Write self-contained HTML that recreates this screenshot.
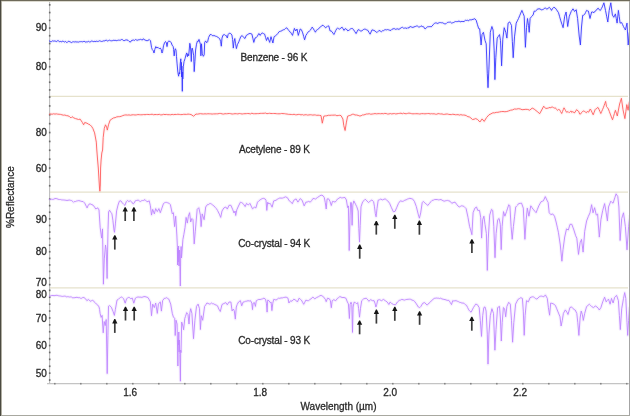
<!DOCTYPE html>
<html><head><meta charset="utf-8"><title>Reflectance spectra</title>
<style>html,body{margin:0;padding:0;background:#fff;width:630px;height:416px;overflow:hidden}svg{display:block;filter:blur(0.35px)}</style>
</head><body>
<svg width="630" height="416" viewBox="0 0 630 416">
<rect width="630" height="416" fill="#ffffff"/>
<line x1="50" y1="96.4" x2="628" y2="96.4" stroke="#e6e2cc" stroke-width="1.2"/>
<line x1="50" y1="192.2" x2="628" y2="192.2" stroke="#e6e2cc" stroke-width="1.2"/>
<line x1="50" y1="287.9" x2="628" y2="287.9" stroke="#e6e2cc" stroke-width="1.2"/>
<line x1="49.6" y1="0" x2="49.6" y2="384" stroke="#bdbdbd" stroke-width="1.1"/>
<line x1="47" y1="383.7" x2="629" y2="383.7" stroke="#c4c4c4" stroke-width="1.3"/>
<rect x="48.9" y="89.1" width="1.6" height="1.7" fill="#6a6a6a"/>
<rect x="48.9" y="81.4" width="1.6" height="1.7" fill="#6a6a6a"/>
<rect x="48.9" y="73.6" width="1.6" height="1.7" fill="#6a6a6a"/>
<rect x="48.9" y="65.9" width="1.6" height="1.7" fill="#6a6a6a"/>
<rect x="48.9" y="58.2" width="1.6" height="1.7" fill="#6a6a6a"/>
<rect x="48.9" y="50.4" width="1.6" height="1.7" fill="#6a6a6a"/>
<rect x="48.9" y="42.7" width="1.6" height="1.7" fill="#6a6a6a"/>
<rect x="48.9" y="34.9" width="1.6" height="1.7" fill="#6a6a6a"/>
<rect x="48.9" y="27.2" width="1.6" height="1.7" fill="#6a6a6a"/>
<rect x="48.9" y="19.5" width="1.6" height="1.7" fill="#6a6a6a"/>
<rect x="48.9" y="11.7" width="1.6" height="1.7" fill="#6a6a6a"/>
<rect x="48.9" y="4.0" width="1.6" height="1.7" fill="#6a6a6a"/>
<rect x="48.9" y="184.9" width="1.6" height="1.7" fill="#6a6a6a"/>
<rect x="48.9" y="176.1" width="1.6" height="1.7" fill="#6a6a6a"/>
<rect x="48.9" y="167.2" width="1.6" height="1.7" fill="#6a6a6a"/>
<rect x="48.9" y="158.3" width="1.6" height="1.7" fill="#6a6a6a"/>
<rect x="48.9" y="149.4" width="1.6" height="1.7" fill="#6a6a6a"/>
<rect x="48.9" y="140.6" width="1.6" height="1.7" fill="#6a6a6a"/>
<rect x="48.9" y="131.7" width="1.6" height="1.7" fill="#6a6a6a"/>
<rect x="48.9" y="122.8" width="1.6" height="1.7" fill="#6a6a6a"/>
<rect x="48.9" y="113.9" width="1.6" height="1.7" fill="#6a6a6a"/>
<rect x="48.9" y="105.1" width="1.6" height="1.7" fill="#6a6a6a"/>
<rect x="48.9" y="96.2" width="1.6" height="1.7" fill="#6a6a6a"/>
<rect x="48.9" y="283.8" width="1.6" height="1.7" fill="#6a6a6a"/>
<rect x="48.9" y="277.2" width="1.6" height="1.7" fill="#6a6a6a"/>
<rect x="48.9" y="270.6" width="1.6" height="1.7" fill="#6a6a6a"/>
<rect x="48.9" y="264.1" width="1.6" height="1.7" fill="#6a6a6a"/>
<rect x="48.9" y="257.5" width="1.6" height="1.7" fill="#6a6a6a"/>
<rect x="48.9" y="250.9" width="1.6" height="1.7" fill="#6a6a6a"/>
<rect x="48.9" y="244.3" width="1.6" height="1.7" fill="#6a6a6a"/>
<rect x="48.9" y="237.7" width="1.6" height="1.7" fill="#6a6a6a"/>
<rect x="48.9" y="231.2" width="1.6" height="1.7" fill="#6a6a6a"/>
<rect x="48.9" y="224.6" width="1.6" height="1.7" fill="#6a6a6a"/>
<rect x="48.9" y="218.0" width="1.6" height="1.7" fill="#6a6a6a"/>
<rect x="48.9" y="211.4" width="1.6" height="1.7" fill="#6a6a6a"/>
<rect x="48.9" y="204.8" width="1.6" height="1.7" fill="#6a6a6a"/>
<rect x="48.9" y="198.3" width="1.6" height="1.7" fill="#6a6a6a"/>
<rect x="48.9" y="379.2" width="1.6" height="1.7" fill="#6a6a6a"/>
<rect x="48.9" y="372.3" width="1.6" height="1.7" fill="#6a6a6a"/>
<rect x="48.9" y="365.4" width="1.6" height="1.7" fill="#6a6a6a"/>
<rect x="48.9" y="358.5" width="1.6" height="1.7" fill="#6a6a6a"/>
<rect x="48.9" y="351.6" width="1.6" height="1.7" fill="#6a6a6a"/>
<rect x="48.9" y="344.7" width="1.6" height="1.7" fill="#6a6a6a"/>
<rect x="48.9" y="337.8" width="1.6" height="1.7" fill="#6a6a6a"/>
<rect x="48.9" y="330.9" width="1.6" height="1.7" fill="#6a6a6a"/>
<rect x="48.9" y="324.0" width="1.6" height="1.7" fill="#6a6a6a"/>
<rect x="48.9" y="317.1" width="1.6" height="1.7" fill="#6a6a6a"/>
<rect x="48.9" y="310.2" width="1.6" height="1.7" fill="#6a6a6a"/>
<rect x="48.9" y="303.3" width="1.6" height="1.7" fill="#6a6a6a"/>
<rect x="48.9" y="296.4" width="1.6" height="1.7" fill="#6a6a6a"/>
<rect x="48.9" y="289.5" width="1.6" height="1.7" fill="#6a6a6a"/>
<rect x="54.0" y="382.9" width="1.6" height="1.6" fill="#858585"/>
<rect x="80.0" y="382.9" width="1.6" height="1.6" fill="#858585"/>
<rect x="106.0" y="382.9" width="1.6" height="1.6" fill="#858585"/>
<rect x="132.0" y="382.9" width="1.6" height="1.6" fill="#858585"/>
<rect x="158.0" y="382.9" width="1.6" height="1.6" fill="#858585"/>
<rect x="184.0" y="382.9" width="1.6" height="1.6" fill="#858585"/>
<rect x="210.0" y="382.9" width="1.6" height="1.6" fill="#858585"/>
<rect x="236.0" y="382.9" width="1.6" height="1.6" fill="#858585"/>
<rect x="262.0" y="382.9" width="1.6" height="1.6" fill="#858585"/>
<rect x="288.0" y="382.9" width="1.6" height="1.6" fill="#858585"/>
<rect x="314.0" y="382.9" width="1.6" height="1.6" fill="#858585"/>
<rect x="340.0" y="382.9" width="1.6" height="1.6" fill="#858585"/>
<rect x="366.0" y="382.9" width="1.6" height="1.6" fill="#858585"/>
<rect x="392.0" y="382.9" width="1.6" height="1.6" fill="#858585"/>
<rect x="418.0" y="382.9" width="1.6" height="1.6" fill="#858585"/>
<rect x="444.0" y="382.9" width="1.6" height="1.6" fill="#858585"/>
<rect x="470.0" y="382.9" width="1.6" height="1.6" fill="#858585"/>
<rect x="496.0" y="382.9" width="1.6" height="1.6" fill="#858585"/>
<rect x="522.0" y="382.9" width="1.6" height="1.6" fill="#858585"/>
<rect x="548.0" y="382.9" width="1.6" height="1.6" fill="#858585"/>
<rect x="574.0" y="382.9" width="1.6" height="1.6" fill="#858585"/>
<rect x="600.0" y="382.9" width="1.6" height="1.6" fill="#858585"/>
<rect x="626.0" y="382.9" width="1.6" height="1.6" fill="#858585"/>
<polyline points="49.00,41.40 49.86,40.87 50.71,41.74 51.57,41.57 52.43,40.85 53.29,41.11 54.14,40.99 55.00,41.00 55.88,41.27 56.75,41.53 57.62,40.70 58.50,40.69 59.38,41.81 60.25,41.36 61.12,41.87 62.00,41.60 62.89,41.00 63.78,41.62 64.67,42.02 65.56,41.43 66.44,42.40 67.33,42.39 68.22,41.30 69.11,41.34 70.00,42.00 70.86,42.08 71.71,42.63 72.57,41.93 73.43,41.75 74.29,42.04 75.14,41.56 76.00,42.20 76.90,41.80 77.80,42.04 78.70,42.07 79.60,41.69 80.50,41.65 81.40,41.59 82.30,41.87 83.20,41.61 84.10,41.22 85.00,41.80 85.91,42.18 86.82,41.76 87.73,41.82 88.64,41.17 89.55,42.17 90.45,41.94 91.36,40.93 92.27,41.15 93.18,41.60 94.09,41.53 95.00,41.20 95.91,41.73 96.82,41.03 97.73,41.52 98.64,41.28 99.55,40.76 100.45,41.10 101.36,41.44 102.27,41.36 103.18,40.88 104.09,40.95 105.00,40.80 105.91,40.16 106.82,40.39 107.73,41.08 108.64,40.54 109.55,40.19 110.45,40.65 111.36,40.81 112.27,40.74 113.18,40.31 114.09,40.36 115.00,40.40 115.90,40.38 116.80,40.70 117.70,40.33 118.60,40.13 119.50,40.22 120.40,40.20 121.34,39.56 122.29,39.55 123.23,40.38 124.17,40.71 125.11,40.18 126.06,39.89 127.00,40.00 128.00,40.24 129.00,41.34 130.00,42.00 131.00,41.63 132.00,40.00 132.86,40.32 133.71,39.99 134.57,40.38 135.43,39.54 136.29,39.88 137.14,40.42 138.00,39.80 138.86,39.84 139.71,39.63 140.57,39.33 141.43,39.63 142.29,40.11 143.14,38.81 144.00,39.40 144.97,40.04 145.95,40.37 146.93,40.73 147.90,40.50 149.30,39.60 150.50,40.80 151.50,47.30 152.20,49.40 153.40,50.90 154.00,53.00 154.80,49.40 155.80,46.60 156.80,48.00 158.00,47.30 159.20,48.70 160.20,48.00 161.20,49.40 162.00,53.00 162.60,51.60 163.50,45.80 164.50,42.90 165.50,41.50 166.40,42.90 167.00,46.60 167.80,41.90 168.80,41.10 170.30,41.50 171.30,42.90 172.10,45.10 173.20,46.60 173.60,49.40 174.20,55.90 174.70,50.90 175.30,48.70 176.00,50.20 176.50,56.70 177.10,63.90 177.90,72.50 178.60,76.20 179.20,72.50 179.70,74.00 180.20,63.90 180.80,58.80 181.10,70.00 181.40,62.40 181.60,77.00 181.80,66.00 182.30,91.30 182.60,72.00 182.80,79.00 183.30,66.80 184.00,61.70 185.00,58.70 186.00,54.80 186.70,52.90 187.40,56.70 187.90,53.80 188.70,55.80 189.30,49.00 189.80,43.30 190.30,45.20 190.80,51.00 191.30,61.50 191.70,50.00 192.20,48.10 192.70,50.00 193.70,55.80 194.20,71.60 194.90,61.50 195.60,50.00 196.50,44.20 197.50,40.90 198.10,41.50 199.00,39.40 200.40,44.20 200.90,55.80 201.50,43.80 202.30,53.80 203.30,56.30 204.20,54.80 204.70,42.30 205.70,40.90 206.60,42.80 207.60,41.80 208.60,37.50 210.00,34.60 211.40,34.60 212.90,36.10 213.80,35.40 215.30,36.10 216.70,36.50 218.20,37.50 219.60,38.50 220.60,41.30 221.30,46.20 222.00,38.00 223.00,35.10 224.40,34.60 225.35,35.41 226.30,35.60 227.30,38.00 228.10,34.60 229.20,33.20 230.70,33.50 231.90,35.10 232.60,39.40 233.30,48.10 234.00,41.80 234.80,38.50 235.50,43.30 236.40,48.60 237.40,44.70 238.80,41.80 239.80,39.15 240.80,36.50 242.20,35.60 243.70,37.50 245.00,38.50 246.20,35.50 247.10,34.92 248.00,34.38 248.90,33.70 250.00,33.50 250.95,33.70 251.90,34.10 252.85,38.25 253.80,42.40 255.10,37.90 256.05,37.78 257.00,36.70 257.95,35.10 258.90,33.50 260.20,35.40 261.15,33.76 262.10,32.90 263.35,33.51 264.60,34.10 265.55,37.30 266.50,40.50 267.80,37.30 268.75,39.85 269.70,42.40 271.00,36.70 271.95,39.85 272.90,43.00 274.10,36.70 274.97,36.12 275.83,35.59 276.70,34.80 277.95,33.35 279.20,31.60 280.45,31.25 281.70,31.00 282.57,29.95 283.43,29.78 284.30,29.70 285.55,28.33 286.80,27.80 287.75,29.16 288.70,30.30 289.65,31.72 290.60,32.20 291.55,33.80 292.50,35.40 293.45,31.90 294.40,28.40 295.70,31.00 297.00,29.00 298.30,35.40 299.25,32.20 300.20,29.00 301.40,29.70 302.70,32.90 303.65,36.35 304.60,39.80 305.90,35.40 307.15,33.50 308.40,31.60 309.35,31.18 310.30,30.30 311.25,28.70 312.20,27.10 313.50,29.00 314.45,30.60 315.40,32.20 316.35,30.32 317.30,29.70 318.37,29.17 319.43,27.64 320.50,27.10 321.75,25.64 323.00,25.20 323.87,26.23 324.73,26.73 325.60,27.80 326.90,26.80 327.85,25.84 328.80,26.00 330.10,31.00 331.05,30.91 332.00,31.70 332.95,33.14 333.90,34.50 334.85,32.45 335.80,30.40 336.75,28.85 337.70,27.90 338.65,28.78 339.60,29.10 340.85,28.09 342.10,27.20 343.05,28.80 344.00,30.40 345.30,28.50 346.17,29.30 347.03,29.55 347.90,31.00 348.85,30.23 349.80,29.65 350.75,28.72 351.70,28.50 352.65,28.64 353.60,29.80 354.85,31.70 356.10,33.60 357.05,31.70 358.00,29.80 358.95,29.72 359.90,30.54 360.85,31.11 361.80,31.00 362.75,29.90 363.70,29.42 364.65,29.12 365.60,29.10 366.47,30.02 367.33,29.92 368.20,31.00 369.15,32.60 370.10,34.20 371.05,32.00 372.00,29.80 372.95,30.16 373.90,30.40 375.15,30.99 376.40,32.30 377.27,32.28 378.13,31.42 379.00,30.40 380.25,31.07 381.50,31.70 382.57,30.71 383.63,30.63 384.70,29.80 385.65,29.66 386.60,29.90 387.55,29.57 388.50,29.80 389.75,30.27 391.00,30.40 392.07,29.19 393.13,28.87 394.20,28.50 395.15,29.26 396.10,29.29 397.05,28.70 398.00,29.10 399.00,29.32 400.00,28.60 401.25,27.70 402.50,27.30 403.40,28.13 404.30,28.14 405.20,27.97 406.10,28.02 407.00,28.60 407.95,27.49 408.90,28.14 409.85,26.57 410.80,26.70 411.87,27.18 412.93,27.43 414.00,26.90 415.25,26.54 416.50,26.00 417.45,26.02 418.40,26.90 419.27,27.01 420.13,26.78 421.00,25.80 422.25,26.52 423.50,26.70 425.10,29.00 426.20,27.96 427.30,26.90 428.25,26.74 429.20,26.70 430.15,26.52 431.10,26.90 432.17,25.99 433.23,24.55 434.30,23.50 435.25,23.03 436.20,22.84 437.15,23.49 438.10,23.20 439.35,22.63 440.60,22.60 441.47,22.77 442.33,22.71 443.20,23.10 444.23,23.72 445.27,23.89 446.30,23.50 447.37,22.44 448.43,22.24 449.50,22.20 450.45,22.08 451.40,23.03 452.35,22.87 453.30,22.60 454.37,22.06 455.43,21.56 456.50,21.60 457.75,21.53 459.00,21.00 459.98,21.59 460.95,21.86 461.92,21.25 462.90,21.60 464.15,21.45 465.40,20.30 466.35,20.49 467.30,20.18 468.25,20.78 469.20,20.10 470.15,19.66 471.10,20.19 472.05,19.26 473.00,19.70 473.95,18.82 474.90,18.80 476.20,20.30 477.50,24.80 478.70,28.60 479.70,28.80 481.10,45.00 482.00,34.60 483.40,32.30 485.00,40.40 486.20,43.80 487.30,73.80 488.00,87.70 488.90,69.20 490.30,32.30 491.90,26.50 493.10,30.00 494.20,50.80 494.90,79.60 495.80,57.70 497.20,38.10 498.35,36.35 499.50,34.60 500.50,40.40 501.60,65.80 502.80,39.20 504.20,27.70 505.80,32.30 506.90,38.10 508.10,23.10 509.70,21.90 510.60,23.65 511.50,25.40 512.35,41.55 513.20,57.70 514.50,36.90 515.35,30.00 516.20,23.10 517.35,20.80 518.50,18.50 519.63,15.80 520.77,13.10 521.90,10.40 523.05,13.30 524.20,16.20 525.40,47.30 526.50,27.70 527.50,18.50 528.50,25.40 529.20,32.30 530.10,18.50 531.50,16.60 533.10,15.00 534.20,11.10 535.35,11.23 536.50,10.40 537.70,8.80 538.85,8.94 540.00,8.80 541.15,9.84 542.30,9.70 543.45,9.40 544.60,8.10 545.75,8.18 546.90,9.20 548.05,8.37 549.20,7.40 550.35,8.39 551.50,10.40 552.65,8.30 553.80,7.40 555.00,7.75 556.20,9.20 557.35,10.95 558.50,12.70 559.65,16.75 560.80,20.80 561.95,24.25 563.10,27.70 564.70,16.20 566.10,12.00 567.70,26.50 569.30,16.20 570.25,13.85 571.20,11.50 572.10,10.15 573.00,8.80 574.60,11.50 576.20,9.70 577.60,18.50 579.20,36.00 580.40,45.00 581.50,27.00 582.70,15.30 583.70,15.17 584.70,14.30 585.65,12.35 586.60,10.40 587.50,10.84 588.40,11.10 590.00,18.50 591.60,12.00 592.80,11.99 594.00,12.70 595.15,11.01 596.30,10.40 597.20,8.95 598.10,8.10 599.25,9.76 600.40,10.40 601.35,8.65 602.30,6.90 603.90,2.80 605.50,10.40 606.65,16.20 607.80,22.00 609.20,10.40 610.80,2.80 612.40,15.00 613.80,17.30 615.40,13.90 616.25,18.50 617.10,23.10 618.40,10.40 619.25,16.75 620.10,23.10 621.70,22.60 622.60,24.60 623.50,26.60 624.45,28.30 625.40,30.00 627.00,23.10 628.20,45.00 629.30,32.30" fill="none" stroke="#3838ff" stroke-opacity="0.07" stroke-width="3.2" stroke-linejoin="round"/>
<polyline points="49.00,114.40 50.53,113.94 52.07,114.24 53.60,113.80 54.98,114.10 56.36,113.87 57.74,114.16 59.12,114.24 60.50,114.40 61.95,114.81 63.40,115.20 64.85,115.02 66.30,115.60 68.00,115.82 69.70,116.70 70.90,117.90 72.10,116.70 73.80,117.89 75.50,118.60 77.00,119.00 78.50,119.50 80.10,119.10 82.40,122.50 83.60,124.80 84.70,122.50 87.00,123.20 88.50,124.18 90.00,124.80 91.40,126.20 92.80,128.30 94.60,132.90 96.30,142.10 96.80,150.00 97.60,160.00 98.30,168.00 98.90,178.00 99.50,188.00 99.90,191.20 100.30,185.00 100.60,168.00 101.10,160.00 101.80,153.00 102.60,150.00 103.20,137.50 104.30,128.30 105.50,124.80 106.60,127.10 107.30,130.10 108.50,124.80 110.10,120.20 111.85,119.01 113.60,117.90 115.13,117.66 116.67,116.91 118.20,116.70 119.73,116.65 121.27,116.25 122.80,115.60 124.35,115.10 125.90,114.92 127.45,115.10 129.00,114.90 130.50,115.23 132.00,114.87 133.50,114.78 135.00,115.00 136.43,114.90 137.86,114.58 139.29,114.68 140.71,114.79 142.14,114.78 143.57,114.56 145.00,114.70 146.43,114.48 147.86,114.45 149.29,114.59 150.71,114.44 152.14,114.22 153.57,114.76 155.00,114.50 156.43,114.55 157.86,114.63 159.29,114.32 160.71,114.90 162.14,114.82 163.57,114.32 165.00,114.60 166.43,114.45 167.86,114.70 169.29,114.66 170.71,114.79 172.14,114.40 173.57,114.66 175.00,114.40 176.43,114.50 177.86,114.23 179.29,114.42 180.71,114.61 182.14,114.57 183.57,114.32 185.00,114.30 186.50,114.41 188.00,114.07 189.50,114.27 191.00,114.50 193.60,116.20 196.00,114.00 197.50,114.17 199.00,113.87 200.50,113.67 202.00,113.90 203.50,113.98 205.00,113.80 206.43,113.94 207.86,113.74 209.29,113.80 210.71,113.86 212.14,114.07 213.57,113.90 215.00,113.90 216.43,113.80 217.86,113.84 219.29,113.48 220.71,113.47 222.14,113.90 223.57,114.07 225.00,113.70 226.43,113.77 227.86,113.63 229.29,113.47 230.71,113.70 232.14,114.04 233.57,113.89 235.00,113.70 236.43,113.73 237.86,113.95 239.29,113.51 240.71,113.71 242.14,114.02 243.57,113.75 245.00,113.70 246.38,113.64 247.75,113.48 249.13,113.64 250.51,113.90 251.88,113.20 253.26,113.71 254.64,113.71 256.02,113.72 257.39,113.59 258.77,113.61 260.15,113.37 261.52,113.37 262.90,113.30 264.24,113.28 265.58,113.06 266.92,113.66 268.26,113.49 269.61,113.27 270.95,113.52 272.29,113.54 273.63,113.48 274.97,113.51 276.31,113.68 277.65,113.77 278.99,113.80 280.34,113.73 281.68,113.46 283.02,113.64 284.36,113.64 285.70,113.90 287.09,114.05 288.48,114.33 289.87,114.38 291.26,114.47 292.65,114.58 294.05,114.27 295.44,114.78 296.83,114.75 298.22,114.43 299.61,114.47 301.00,114.90 302.32,114.58 303.63,115.13 304.95,114.79 306.26,114.72 307.58,115.10 308.89,114.93 310.21,114.76 311.52,114.85 312.84,115.13 314.15,114.90 315.47,114.99 316.78,115.33 318.10,115.20 319.55,115.37 321.00,115.60 322.30,123.20 323.80,116.20 325.32,115.88 326.84,115.78 328.36,115.27 329.88,115.32 331.40,115.20 332.77,115.20 334.14,115.10 335.51,115.10 336.89,115.71 338.26,115.49 339.63,115.34 341.00,115.60 342.90,119.00 343.80,125.70 345.10,130.50 346.30,122.90 347.60,116.20 349.20,115.64 350.80,115.16 352.40,114.30 353.70,114.31 355.00,115.00 356.60,115.00 358.20,115.42 359.80,116.00 361.12,115.75 362.44,114.96 363.76,114.94 365.08,114.52 366.40,114.00 367.84,113.99 369.27,113.73 370.71,114.22 372.15,114.06 373.59,113.82 375.02,113.58 376.46,113.84 377.90,113.70 379.28,113.63 380.66,113.75 382.05,113.57 383.43,113.79 384.81,113.39 386.19,113.56 387.57,114.03 388.95,113.96 390.34,113.56 391.72,113.95 393.10,113.70 394.42,113.54 395.73,113.95 397.05,113.78 398.36,113.52 399.68,113.37 400.99,113.17 402.31,113.75 403.62,113.13 404.94,113.65 406.25,113.72 407.57,113.41 408.88,113.10 410.20,113.30 411.57,113.66 412.94,113.83 414.31,113.74 415.69,113.71 417.06,113.71 418.43,113.79 419.80,114.00 421.70,113.64 423.60,113.70 424.92,113.84 426.23,113.70 427.55,113.56 428.86,113.52 430.18,113.93 431.49,113.70 432.81,113.86 434.12,113.76 435.44,114.17 436.75,114.21 438.07,113.62 439.38,113.77 440.70,114.00 442.03,113.92 443.36,114.42 444.69,114.32 446.02,114.05 447.35,114.00 448.68,114.36 450.01,114.52 451.34,114.62 452.67,114.25 454.00,114.40 455.37,114.75 456.74,114.70 458.11,114.65 459.49,115.08 460.86,114.64 462.23,115.07 463.60,115.00 465.03,115.18 466.45,115.72 467.88,116.71 469.30,116.90 470.90,118.00 472.50,119.50 474.10,119.23 475.70,118.60 477.60,119.50 479.90,122.00 482.10,118.90 484.20,121.40 486.50,117.60 489.00,114.80 490.95,113.87 492.90,112.80 494.57,112.87 496.23,112.37 497.90,112.30 499.60,111.92 501.30,111.62 503.00,111.50 504.90,111.76 506.80,111.50 508.70,110.92 510.60,110.20 512.50,109.92 514.40,109.00 516.35,109.12 518.30,108.70 520.20,108.94 522.10,109.70 524.00,109.54 525.90,109.30 527.80,109.47 529.70,110.20 532.20,108.10 534.10,109.03 536.00,110.60 537.80,111.90 539.60,113.80 541.70,110.00 543.70,106.20 545.60,108.40 547.07,108.32 548.53,107.94 550.00,107.40 550.83,107.96 551.67,106.88 552.50,107.10 553.37,107.56 554.23,108.13 555.10,107.80 555.93,108.39 556.77,109.61 557.60,110.30 558.55,109.45 559.50,109.70 560.60,111.60 561.70,113.50 562.47,111.60 563.23,109.70 564.00,107.80 564.83,109.27 565.67,110.73 566.50,112.20 567.26,112.00 568.02,111.51 568.78,112.41 569.54,112.38 570.30,111.60 571.06,110.88 571.82,112.46 572.58,111.56 573.34,111.87 574.10,112.90 575.05,112.37 576.00,110.30 576.95,109.73 577.90,111.00 578.77,111.51 579.63,114.04 580.50,114.10 581.45,112.69 582.40,111.60 583.20,110.98 584.00,111.23 584.80,111.53 585.60,112.20 586.43,112.69 587.27,111.41 588.10,112.20 588.87,111.95 589.63,109.82 590.40,109.00 591.33,110.93 592.27,112.87 593.20,114.80 594.15,112.25 595.10,109.70 595.90,108.73 596.70,108.70 597.50,107.48 598.30,107.80 599.13,109.70 599.97,111.60 600.80,113.50 601.63,111.60 602.47,109.70 603.30,107.80 604.07,105.67 604.83,103.53 605.60,101.40 606.50,106.50 607.45,107.65 608.40,109.00 609.35,111.55 610.30,114.10 611.40,116.95 612.50,119.80 613.47,116.63 614.43,113.47 615.40,110.30 616.35,113.15 617.30,116.00 618.07,112.00 618.83,108.00 619.60,104.00 620.50,101.15 621.40,98.30 622.20,104.00 623.00,109.70 623.95,114.15 624.90,118.60 625.85,111.60 626.80,104.60 628.10,110.30 629.40,101.40" fill="none" stroke="#ff6464" stroke-opacity="0.08" stroke-width="3.2" stroke-linejoin="round"/>
<polyline points="49.00,199.30 50.60,199.50 51.60,199.19 52.60,199.40 53.80,199.19 55.00,198.50 56.90,198.70 58.10,199.28 59.30,199.50 60.50,199.53 61.70,199.90 62.77,199.96 63.83,200.00 64.90,200.10 65.93,200.27 66.97,200.44 68.00,200.30 69.20,200.02 70.40,200.30 71.60,200.57 72.80,201.50 73.60,202.30 74.40,201.50 75.40,201.54 76.40,201.10 77.60,200.80 78.80,200.60 80.70,201.10 81.90,201.48 83.10,201.50 84.70,203.10 86.30,206.30 87.10,207.90 87.90,205.90 89.10,204.10 90.10,203.85 91.10,204.30 93.00,205.10 94.60,207.10 95.80,209.10 97.00,207.90 98.20,208.30 99.00,210.00 100.20,227.70 101.60,238.10 102.50,228.90 103.40,284.20 104.30,258.90 105.50,245.00 106.20,249.60 107.10,278.50 107.60,250.00 108.00,229.70 108.60,212.00 109.50,210.20 110.80,212.30 111.90,213.80 112.90,220.30 114.00,230.40 114.50,232.30 115.40,223.90 116.60,210.90 118.00,205.10 119.40,201.10 120.90,200.80 122.30,202.90 123.80,204.40 124.90,205.40 126.40,201.50 127.40,200.50 128.80,201.50 130.30,200.80 131.70,201.90 133.20,204.00 133.90,203.40 135.30,200.80 136.75,200.41 138.20,200.10 139.30,200.96 140.40,201.50 141.45,200.81 142.50,200.50 143.75,200.36 145.00,199.60 146.90,201.70 148.05,201.53 149.20,200.80 150.40,205.80 151.50,215.10 152.70,209.30 154.30,213.90 155.70,208.60 157.30,211.60 158.90,208.60 160.30,212.70 161.90,208.10 163.50,203.50 164.50,202.80 165.50,202.43 166.50,202.40 167.65,202.78 168.80,203.10 170.40,204.70 172.30,213.90 173.40,212.70 174.60,226.60 175.70,216.20 176.90,236.00 177.40,247.00 177.60,265.00 177.90,248.00 178.30,262.00 178.60,246.00 179.00,266.00 179.40,250.00 179.80,262.00 180.30,286.00 180.70,255.00 181.10,246.50 181.50,258.00 182.00,251.80 182.90,239.50 183.80,234.70 185.00,227.70 186.10,217.40 187.30,223.10 188.40,216.20 189.60,212.70 190.70,222.00 191.90,218.50 193.00,219.70 194.20,243.90 195.30,231.20 197.20,209.30 198.80,207.70 200.40,215.10 201.10,226.60 202.20,213.90 204.10,219.70 205.70,207.00 207.30,204.70 208.30,204.61 209.30,203.82 210.30,203.50 211.47,204.07 212.63,204.98 213.80,205.80 215.00,207.20 216.25,208.47 217.50,210.40 219.40,214.20 220.70,217.40 222.00,211.00 223.90,207.90 225.80,207.00 227.30,209.10 229.00,205.30 230.90,205.30 232.80,209.80 234.00,213.00 235.10,211.00 235.70,215.50 236.80,209.80 238.50,206.00 240.40,202.20 241.65,202.61 242.90,203.40 244.05,204.96 245.20,206.60 246.50,203.40 248.30,205.00 249.90,203.40 251.20,206.10 252.50,208.80 254.40,207.20 255.90,207.90 257.50,202.20 258.80,200.86 260.10,199.90 261.17,199.18 262.23,198.64 263.30,198.30 265.20,199.00 266.00,200.30 266.80,210.40 267.70,202.20 269.00,204.10 269.90,203.20 270.90,204.70 272.10,207.20 273.70,200.90 274.85,200.57 276.00,200.30 277.25,199.30 278.50,198.60 279.75,198.02 281.00,198.10 282.30,198.14 283.60,197.70 285.50,196.80 287.40,197.70 289.30,200.90 290.50,201.60 292.30,203.70 293.80,200.20 294.95,199.59 296.10,198.90 297.90,202.10 299.05,200.35 300.20,198.60 302.10,200.20 303.15,203.05 304.20,205.90 305.90,202.10 307.15,202.09 308.40,201.40 310.30,202.10 311.60,200.60 312.90,198.60 314.15,198.58 315.40,199.10 317.30,197.60 319.20,196.30 321.10,195.10 323.00,195.70 324.30,197.60 325.30,202.70 326.20,209.00 327.10,198.90 328.70,198.90 330.00,201.40 331.30,205.50 332.50,201.40 333.80,201.63 335.10,202.10 336.35,200.66 337.60,198.90 338.90,198.25 340.20,197.30 341.45,197.86 342.70,197.80 343.85,197.60 345.00,197.50 346.40,200.00 347.60,207.60 348.40,205.90 349.20,250.50 350.10,215.20 350.60,202.60 351.40,202.60 352.10,225.30 352.80,205.10 353.80,200.90 355.50,204.20 356.80,206.80 358.20,211.00 358.80,228.60 359.50,242.10 360.20,225.30 361.00,206.80 362.70,201.70 363.95,200.68 365.20,199.20 366.90,200.90 368.60,202.60 370.30,200.90 371.90,200.00 373.60,201.70 374.50,206.80 375.30,213.50 376.10,216.80 377.00,208.40 378.20,200.20 379.45,199.77 380.70,199.10 382.60,199.90 383.90,199.26 385.20,198.90 386.45,199.91 387.70,200.80 389.60,203.30 391.50,207.80 393.40,211.80 395.10,211.30 396.60,207.80 398.50,203.30 400.40,200.80 402.30,201.40 403.55,201.07 404.80,200.20 406.10,199.89 407.40,199.10 408.65,198.70 409.90,198.30 411.20,198.66 412.50,198.90 414.40,201.40 416.30,206.50 418.20,214.10 419.40,218.20 420.70,212.90 422.20,202.70 423.30,201.40 425.20,203.30 426.45,204.07 427.70,205.50 429.60,203.30 430.85,201.67 432.10,200.40 433.40,200.16 434.70,199.50 435.97,199.57 437.23,199.54 438.50,199.90 439.75,199.73 441.00,199.50 442.07,200.21 443.13,200.76 444.20,201.20 445.27,200.85 446.33,200.62 447.40,200.40 448.70,200.81 450.00,201.20 451.80,203.30 453.10,202.70 455.00,202.10 456.90,204.70 458.05,206.04 459.20,207.00 460.35,206.41 461.50,205.80 462.65,205.98 463.80,206.30 464.95,207.44 466.10,208.60 468.00,217.40 469.60,226.60 470.70,230.00 471.90,234.70 473.10,212.70 474.90,208.10 476.50,207.00 477.70,210.40 479.50,210.40 480.70,217.40 481.60,238.10 482.70,219.70 483.90,216.20 485.00,224.30 486.40,233.50 487.30,270.40 488.30,238.10 489.70,215.10 491.50,209.30 492.70,210.40 493.80,226.60 495.00,257.70 496.10,233.50 497.70,219.70 499.10,218.50 500.30,224.30 501.20,249.60 502.10,226.60 503.50,211.60 504.90,216.20 506.50,211.60 507.65,208.15 508.80,204.70 509.90,205.80 511.10,226.60 512.20,239.30 513.40,226.60 514.55,216.80 515.70,207.00 516.70,205.98 517.70,205.00 518.70,203.50 520.10,203.37 521.50,203.10 523.30,208.10 524.90,239.30 526.20,219.70 527.30,208.10 528.90,216.20 530.80,205.80 531.95,207.55 533.10,209.30 534.10,210.20 535.10,211.57 536.10,212.70 537.45,209.25 538.80,205.80 539.95,203.75 541.10,201.70 542.25,201.28 543.40,200.80 545.30,196.60 546.90,200.10 548.10,202.40 549.20,212.70 550.80,214.60 552.70,213.90 554.50,216.20 556.10,222.00 557.25,227.15 558.40,232.30 560.30,245.00 561.90,261.20 563.00,249.60 564.70,237.00 566.50,228.90 568.30,230.00 570.00,224.30 571.80,224.30 572.85,227.15 573.90,230.00 575.70,235.80 576.80,238.20 578.50,254.40 580.10,242.80 581.50,239.40 583.10,252.10 584.70,231.30 586.60,220.90 588.40,216.30 590.00,212.80 591.60,204.70 593.00,212.80 594.60,207.70 596.30,215.10 597.60,214.00 599.30,237.10 600.90,219.70 602.70,210.50 604.60,203.60 606.20,212.80 607.40,220.90 608.50,207.00 609.65,204.10 610.80,201.20 611.95,202.47 613.10,203.10 614.80,197.80 616.10,193.80 617.80,196.60 618.90,207.00 620.10,240.50 621.70,218.60 623.50,212.80 625.40,226.70 627.00,249.80 628.60,226.70 629.80,215.10" fill="none" stroke="#b070ff" stroke-opacity="0.09" stroke-width="3.2" stroke-linejoin="round"/>
<polyline points="49.00,296.00 50.60,295.90 51.80,295.44 53.00,295.50 54.03,295.68 55.07,295.55 56.10,295.30 57.17,295.33 58.23,295.70 59.30,295.90 60.30,295.96 61.30,296.21 62.30,296.40 63.30,296.30 64.30,296.12 65.30,296.17 66.30,296.84 67.30,296.70 68.33,296.72 69.37,297.02 70.40,296.90 71.60,297.05 72.80,297.90 73.87,297.70 74.93,297.72 76.00,297.40 77.07,297.24 78.13,297.78 79.20,297.50 80.35,298.18 81.50,298.30 82.70,297.57 83.90,297.50 85.50,298.70 86.90,300.70 88.30,299.50 89.30,300.07 90.30,301.30 91.30,300.83 92.30,300.30 93.40,300.70 94.60,302.30 96.20,303.90 97.80,305.10 99.00,306.90 99.60,309.50 100.10,313.40 101.10,317.40 102.10,315.40 103.20,332.80 104.20,321.50 105.20,325.60 106.20,319.50 107.20,373.60 107.90,335.80 108.50,306.20 109.70,305.60 111.30,307.20 113.00,311.30 114.40,315.40 115.40,309.30 117.00,300.10 118.25,299.41 119.50,298.10 120.50,297.47 121.50,297.00 122.55,297.65 123.60,298.70 125.20,303.20 126.60,298.70 127.65,298.00 128.70,297.40 129.70,297.72 130.70,298.70 132.30,298.10 133.80,303.20 135.40,298.10 136.65,297.36 137.90,297.00 138.90,297.06 139.90,297.20 140.90,297.11 141.90,297.40 142.93,296.94 143.97,296.67 145.00,296.60 146.03,296.94 147.07,297.19 148.10,297.70 149.25,299.75 150.40,301.80 151.50,315.70 152.70,304.10 154.30,307.60 155.70,303.00 157.30,313.40 158.40,304.10 160.30,301.80 161.40,311.10 162.60,300.70 164.20,298.40 165.35,298.29 166.50,297.70 167.65,298.44 168.80,299.10 170.70,304.10 172.30,313.40 173.40,317.00 174.70,318.30 175.20,335.50 176.00,320.20 177.10,324.00 177.50,345.00 177.90,366.00 178.20,340.00 178.50,345.00 178.80,332.00 179.10,352.00 179.40,340.00 179.80,354.50 180.40,381.20 180.70,350.00 181.00,352.60 181.40,335.00 181.70,322.10 182.90,326.00 183.60,329.80 184.80,318.30 185.50,316.40 186.70,312.60 188.00,314.50 189.00,324.00 189.90,312.60 190.70,308.70 191.90,313.40 193.50,338.70 194.90,320.30 196.50,306.40 198.10,304.10 199.50,308.70 200.40,329.50 201.30,315.70 202.70,320.30 204.60,306.40 205.75,304.80 206.90,303.00 208.05,303.33 209.20,304.10 210.35,303.89 211.50,303.00 212.63,303.79 213.77,303.80 214.90,304.60 216.20,305.08 217.50,305.80 218.80,309.00 220.30,311.50 222.00,304.50 223.90,303.50 225.80,302.60 227.30,304.80 229.00,302.00 230.90,302.00 232.10,310.90 233.40,309.00 234.30,310.90 235.30,319.10 236.30,307.00 237.20,304.50 238.50,302.00 240.40,300.70 241.70,305.80 243.20,302.00 244.35,301.81 245.50,301.30 246.75,301.15 248.00,300.70 249.30,301.01 250.60,300.70 251.80,303.20 252.50,309.60 253.10,303.20 254.40,302.60 255.40,306.40 256.30,300.70 257.55,300.00 258.80,299.40 260.05,299.53 261.30,299.20 262.60,298.82 263.90,298.20 265.50,299.20 266.40,303.20 267.10,312.10 267.70,300.10 269.00,300.70 270.20,302.60 271.10,302.00 271.90,310.60 272.80,303.20 273.70,299.40 274.85,299.61 276.00,300.10 277.25,299.21 278.50,298.20 279.75,298.32 281.00,297.90 282.30,297.94 283.60,297.50 284.85,297.30 286.10,297.10 288.00,298.20 288.90,303.00 290.60,300.70 291.90,301.30 293.80,299.20 295.70,300.10 297.40,302.00 299.10,298.20 300.25,299.21 301.40,300.10 302.55,302.20 303.70,304.30 304.80,302.20 305.90,300.10 307.15,300.61 308.40,300.70 309.70,299.69 311.00,298.80 312.90,297.10 314.80,298.80 316.70,297.50 318.60,296.60 319.85,295.77 321.10,295.40 322.20,296.03 323.30,296.60 324.30,298.04 325.30,299.20 326.20,301.70 327.50,298.20 329.40,298.80 330.40,300.70 331.30,307.70 332.20,300.70 333.80,299.70 335.70,300.70 337.60,298.20 338.70,297.52 339.80,296.60 340.95,296.96 342.10,297.50 344.00,297.50 345.90,298.20 347.40,302.00 348.40,303.90 349.40,318.50 350.10,304.50 351.00,302.20 351.80,304.50 352.50,332.40 353.10,307.00 354.10,302.20 355.40,302.60 356.70,303.90 357.70,302.60 358.60,308.30 359.50,317.20 360.50,308.30 361.70,300.70 362.70,299.71 363.70,298.80 364.95,298.51 366.20,298.20 368.10,300.10 368.80,301.30 370.70,299.70 372.60,300.70 374.10,300.70 375.20,303.90 375.90,307.00 376.70,304.50 377.70,300.10 379.60,299.70 381.50,300.70 383.40,299.40 385.30,300.70 387.20,302.00 388.90,304.50 390.10,302.00 391.70,303.50 393.60,304.50 395.50,304.80 397.40,302.00 399.30,300.40 400.55,300.09 401.80,299.40 403.10,299.76 404.40,300.10 405.65,299.68 406.90,299.40 408.15,299.29 409.40,299.20 410.70,299.32 412.00,300.10 413.25,300.38 414.50,301.30 416.40,303.90 418.30,307.00 419.60,307.70 420.90,306.40 422.80,303.20 424.70,302.60 425.95,303.99 427.20,305.10 429.10,303.00 430.40,302.04 431.70,300.40 432.95,299.47 434.20,298.40 435.27,298.26 436.33,298.04 437.40,298.20 438.47,298.20 439.53,298.54 440.60,298.20 441.85,298.89 443.10,299.20 445.00,299.60 446.05,299.90 447.10,300.40 448.15,300.24 449.20,300.70 450.35,302.65 451.50,304.60 452.70,300.70 453.83,301.02 454.97,300.75 456.10,300.70 457.27,301.20 458.43,301.61 459.60,302.30 460.77,302.57 461.93,303.09 463.10,303.00 464.23,303.42 465.37,304.73 466.50,305.30 467.65,307.60 468.80,309.90 469.95,311.32 471.10,312.20 472.25,309.90 473.40,307.60 474.55,305.85 475.70,304.10 477.30,304.60 479.20,307.60 480.30,320.30 481.50,336.40 482.70,315.70 483.80,307.60 485.00,306.90 486.10,311.10 487.30,334.10 488.00,364.10 488.90,334.10 490.30,315.70 491.90,308.70 493.50,313.40 494.90,350.20 496.00,329.50 497.60,307.60 499.50,306.40 500.40,318.00 501.30,341.00 502.20,322.60 503.40,307.60 504.60,308.70 505.70,316.80 506.90,306.40 508.70,302.30 510.30,304.10 511.50,320.30 512.60,342.20 513.80,322.60 515.60,304.10 516.75,301.80 517.90,299.50 519.35,298.64 520.80,297.70 522.40,298.40 523.30,311.10 524.20,335.30 525.10,315.70 526.50,300.70 528.40,301.80 530.00,297.70 531.15,297.20 532.30,296.80 533.45,296.94 534.60,297.70 535.75,298.66 536.90,299.10 538.05,298.00 539.20,296.80 540.35,296.24 541.50,296.10 542.65,296.45 543.80,296.80 545.40,294.90 547.30,298.40 548.40,307.60 549.60,315.20 550.70,303.00 551.85,303.34 553.00,303.70 554.15,304.40 555.30,305.30 556.50,308.20 557.70,311.10 558.85,313.95 560.00,316.80 561.10,326.00 562.30,320.30 563.40,313.40 565.30,309.90 566.90,312.20 568.00,314.50 569.90,307.60 571.50,306.90 573.10,308.70 574.15,309.44 575.20,310.00 576.80,313.40 577.80,322.70 578.90,335.40 580.10,318.00 581.20,311.10 582.40,314.60 583.30,320.40 584.70,313.40 586.60,306.50 587.95,305.43 589.30,304.20 590.45,305.32 591.60,306.50 593.50,307.60 595.30,306.00 597.00,307.00 598.15,308.17 599.30,310.00 600.90,307.60 602.70,301.90 604.60,297.20 606.20,301.90 607.35,300.31 608.50,299.10 610.10,304.20 611.50,298.40 613.10,303.00 614.70,297.20 616.60,295.40 618.40,300.70 619.40,315.70 620.30,329.60 621.70,308.80 623.50,298.40 624.70,292.60 625.80,298.40 627.00,322.70 627.70,335.40 628.60,320.40 629.50,306.50" fill="none" stroke="#b070ff" stroke-opacity="0.09" stroke-width="3.2" stroke-linejoin="round"/>
<polyline points="49.00,41.40 49.86,40.87 50.71,41.74 51.57,41.57 52.43,40.85 53.29,41.11 54.14,40.99 55.00,41.00 55.88,41.27 56.75,41.53 57.62,40.70 58.50,40.69 59.38,41.81 60.25,41.36 61.12,41.87 62.00,41.60 62.89,41.00 63.78,41.62 64.67,42.02 65.56,41.43 66.44,42.40 67.33,42.39 68.22,41.30 69.11,41.34 70.00,42.00 70.86,42.08 71.71,42.63 72.57,41.93 73.43,41.75 74.29,42.04 75.14,41.56 76.00,42.20 76.90,41.80 77.80,42.04 78.70,42.07 79.60,41.69 80.50,41.65 81.40,41.59 82.30,41.87 83.20,41.61 84.10,41.22 85.00,41.80 85.91,42.18 86.82,41.76 87.73,41.82 88.64,41.17 89.55,42.17 90.45,41.94 91.36,40.93 92.27,41.15 93.18,41.60 94.09,41.53 95.00,41.20 95.91,41.73 96.82,41.03 97.73,41.52 98.64,41.28 99.55,40.76 100.45,41.10 101.36,41.44 102.27,41.36 103.18,40.88 104.09,40.95 105.00,40.80 105.91,40.16 106.82,40.39 107.73,41.08 108.64,40.54 109.55,40.19 110.45,40.65 111.36,40.81 112.27,40.74 113.18,40.31 114.09,40.36 115.00,40.40 115.90,40.38 116.80,40.70 117.70,40.33 118.60,40.13 119.50,40.22 120.40,40.20 121.34,39.56 122.29,39.55 123.23,40.38 124.17,40.71 125.11,40.18 126.06,39.89 127.00,40.00 128.00,40.24 129.00,41.34 130.00,42.00 131.00,41.63 132.00,40.00 132.86,40.32 133.71,39.99 134.57,40.38 135.43,39.54 136.29,39.88 137.14,40.42 138.00,39.80 138.86,39.84 139.71,39.63 140.57,39.33 141.43,39.63 142.29,40.11 143.14,38.81 144.00,39.40 144.97,40.04 145.95,40.37 146.93,40.73 147.90,40.50 149.30,39.60 150.50,40.80 151.50,47.30 152.20,49.40 153.40,50.90 154.00,53.00 154.80,49.40 155.80,46.60 156.80,48.00 158.00,47.30 159.20,48.70 160.20,48.00 161.20,49.40 162.00,53.00 162.60,51.60 163.50,45.80 164.50,42.90 165.50,41.50 166.40,42.90 167.00,46.60 167.80,41.90 168.80,41.10 170.30,41.50 171.30,42.90 172.10,45.10 173.20,46.60 173.60,49.40 174.20,55.90 174.70,50.90 175.30,48.70 176.00,50.20 176.50,56.70 177.10,63.90 177.90,72.50 178.60,76.20 179.20,72.50 179.70,74.00 180.20,63.90 180.80,58.80 181.10,70.00 181.40,62.40 181.60,77.00 181.80,66.00 182.30,91.30 182.60,72.00 182.80,79.00 183.30,66.80 184.00,61.70 185.00,58.70 186.00,54.80 186.70,52.90 187.40,56.70 187.90,53.80 188.70,55.80 189.30,49.00 189.80,43.30 190.30,45.20 190.80,51.00 191.30,61.50 191.70,50.00 192.20,48.10 192.70,50.00 193.70,55.80 194.20,71.60 194.90,61.50 195.60,50.00 196.50,44.20 197.50,40.90 198.10,41.50 199.00,39.40 200.40,44.20 200.90,55.80 201.50,43.80 202.30,53.80 203.30,56.30 204.20,54.80 204.70,42.30 205.70,40.90 206.60,42.80 207.60,41.80 208.60,37.50 210.00,34.60 211.40,34.60 212.90,36.10 213.80,35.40 215.30,36.10 216.70,36.50 218.20,37.50 219.60,38.50 220.60,41.30 221.30,46.20 222.00,38.00 223.00,35.10 224.40,34.60 225.35,35.41 226.30,35.60 227.30,38.00 228.10,34.60 229.20,33.20 230.70,33.50 231.90,35.10 232.60,39.40 233.30,48.10 234.00,41.80 234.80,38.50 235.50,43.30 236.40,48.60 237.40,44.70 238.80,41.80 239.80,39.15 240.80,36.50 242.20,35.60 243.70,37.50 245.00,38.50 246.20,35.50 247.10,34.92 248.00,34.38 248.90,33.70 250.00,33.50 250.95,33.70 251.90,34.10 252.85,38.25 253.80,42.40 255.10,37.90 256.05,37.78 257.00,36.70 257.95,35.10 258.90,33.50 260.20,35.40 261.15,33.76 262.10,32.90 263.35,33.51 264.60,34.10 265.55,37.30 266.50,40.50 267.80,37.30 268.75,39.85 269.70,42.40 271.00,36.70 271.95,39.85 272.90,43.00 274.10,36.70 274.97,36.12 275.83,35.59 276.70,34.80 277.95,33.35 279.20,31.60 280.45,31.25 281.70,31.00 282.57,29.95 283.43,29.78 284.30,29.70 285.55,28.33 286.80,27.80 287.75,29.16 288.70,30.30 289.65,31.72 290.60,32.20 291.55,33.80 292.50,35.40 293.45,31.90 294.40,28.40 295.70,31.00 297.00,29.00 298.30,35.40 299.25,32.20 300.20,29.00 301.40,29.70 302.70,32.90 303.65,36.35 304.60,39.80 305.90,35.40 307.15,33.50 308.40,31.60 309.35,31.18 310.30,30.30 311.25,28.70 312.20,27.10 313.50,29.00 314.45,30.60 315.40,32.20 316.35,30.32 317.30,29.70 318.37,29.17 319.43,27.64 320.50,27.10 321.75,25.64 323.00,25.20 323.87,26.23 324.73,26.73 325.60,27.80 326.90,26.80 327.85,25.84 328.80,26.00 330.10,31.00 331.05,30.91 332.00,31.70 332.95,33.14 333.90,34.50 334.85,32.45 335.80,30.40 336.75,28.85 337.70,27.90 338.65,28.78 339.60,29.10 340.85,28.09 342.10,27.20 343.05,28.80 344.00,30.40 345.30,28.50 346.17,29.30 347.03,29.55 347.90,31.00 348.85,30.23 349.80,29.65 350.75,28.72 351.70,28.50 352.65,28.64 353.60,29.80 354.85,31.70 356.10,33.60 357.05,31.70 358.00,29.80 358.95,29.72 359.90,30.54 360.85,31.11 361.80,31.00 362.75,29.90 363.70,29.42 364.65,29.12 365.60,29.10 366.47,30.02 367.33,29.92 368.20,31.00 369.15,32.60 370.10,34.20 371.05,32.00 372.00,29.80 372.95,30.16 373.90,30.40 375.15,30.99 376.40,32.30 377.27,32.28 378.13,31.42 379.00,30.40 380.25,31.07 381.50,31.70 382.57,30.71 383.63,30.63 384.70,29.80 385.65,29.66 386.60,29.90 387.55,29.57 388.50,29.80 389.75,30.27 391.00,30.40 392.07,29.19 393.13,28.87 394.20,28.50 395.15,29.26 396.10,29.29 397.05,28.70 398.00,29.10 399.00,29.32 400.00,28.60 401.25,27.70 402.50,27.30 403.40,28.13 404.30,28.14 405.20,27.97 406.10,28.02 407.00,28.60 407.95,27.49 408.90,28.14 409.85,26.57 410.80,26.70 411.87,27.18 412.93,27.43 414.00,26.90 415.25,26.54 416.50,26.00 417.45,26.02 418.40,26.90 419.27,27.01 420.13,26.78 421.00,25.80 422.25,26.52 423.50,26.70 425.10,29.00 426.20,27.96 427.30,26.90 428.25,26.74 429.20,26.70 430.15,26.52 431.10,26.90 432.17,25.99 433.23,24.55 434.30,23.50 435.25,23.03 436.20,22.84 437.15,23.49 438.10,23.20 439.35,22.63 440.60,22.60 441.47,22.77 442.33,22.71 443.20,23.10 444.23,23.72 445.27,23.89 446.30,23.50 447.37,22.44 448.43,22.24 449.50,22.20 450.45,22.08 451.40,23.03 452.35,22.87 453.30,22.60 454.37,22.06 455.43,21.56 456.50,21.60 457.75,21.53 459.00,21.00 459.98,21.59 460.95,21.86 461.92,21.25 462.90,21.60 464.15,21.45 465.40,20.30 466.35,20.49 467.30,20.18 468.25,20.78 469.20,20.10 470.15,19.66 471.10,20.19 472.05,19.26 473.00,19.70 473.95,18.82 474.90,18.80 476.20,20.30 477.50,24.80 478.70,28.60 479.70,28.80 481.10,45.00 482.00,34.60 483.40,32.30 485.00,40.40 486.20,43.80 487.30,73.80 488.00,87.70 488.90,69.20 490.30,32.30 491.90,26.50 493.10,30.00 494.20,50.80 494.90,79.60 495.80,57.70 497.20,38.10 498.35,36.35 499.50,34.60 500.50,40.40 501.60,65.80 502.80,39.20 504.20,27.70 505.80,32.30 506.90,38.10 508.10,23.10 509.70,21.90 510.60,23.65 511.50,25.40 512.35,41.55 513.20,57.70 514.50,36.90 515.35,30.00 516.20,23.10 517.35,20.80 518.50,18.50 519.63,15.80 520.77,13.10 521.90,10.40 523.05,13.30 524.20,16.20 525.40,47.30 526.50,27.70 527.50,18.50 528.50,25.40 529.20,32.30 530.10,18.50 531.50,16.60 533.10,15.00 534.20,11.10 535.35,11.23 536.50,10.40 537.70,8.80 538.85,8.94 540.00,8.80 541.15,9.84 542.30,9.70 543.45,9.40 544.60,8.10 545.75,8.18 546.90,9.20 548.05,8.37 549.20,7.40 550.35,8.39 551.50,10.40 552.65,8.30 553.80,7.40 555.00,7.75 556.20,9.20 557.35,10.95 558.50,12.70 559.65,16.75 560.80,20.80 561.95,24.25 563.10,27.70 564.70,16.20 566.10,12.00 567.70,26.50 569.30,16.20 570.25,13.85 571.20,11.50 572.10,10.15 573.00,8.80 574.60,11.50 576.20,9.70 577.60,18.50 579.20,36.00 580.40,45.00 581.50,27.00 582.70,15.30 583.70,15.17 584.70,14.30 585.65,12.35 586.60,10.40 587.50,10.84 588.40,11.10 590.00,18.50 591.60,12.00 592.80,11.99 594.00,12.70 595.15,11.01 596.30,10.40 597.20,8.95 598.10,8.10 599.25,9.76 600.40,10.40 601.35,8.65 602.30,6.90 603.90,2.80 605.50,10.40 606.65,16.20 607.80,22.00 609.20,10.40 610.80,2.80 612.40,15.00 613.80,17.30 615.40,13.90 616.25,18.50 617.10,23.10 618.40,10.40 619.25,16.75 620.10,23.10 621.70,22.60 622.60,24.60 623.50,26.60 624.45,28.30 625.40,30.00 627.00,23.10 628.20,45.00 629.30,32.30" fill="none" stroke="#3838ff" stroke-width="0.9" stroke-linejoin="round"/>
<polyline points="49.00,114.40 50.53,113.94 52.07,114.24 53.60,113.80 54.98,114.10 56.36,113.87 57.74,114.16 59.12,114.24 60.50,114.40 61.95,114.81 63.40,115.20 64.85,115.02 66.30,115.60 68.00,115.82 69.70,116.70 70.90,117.90 72.10,116.70 73.80,117.89 75.50,118.60 77.00,119.00 78.50,119.50 80.10,119.10 82.40,122.50 83.60,124.80 84.70,122.50 87.00,123.20 88.50,124.18 90.00,124.80 91.40,126.20 92.80,128.30 94.60,132.90 96.30,142.10 96.80,150.00 97.60,160.00 98.30,168.00 98.90,178.00 99.50,188.00 99.90,191.20 100.30,185.00 100.60,168.00 101.10,160.00 101.80,153.00 102.60,150.00 103.20,137.50 104.30,128.30 105.50,124.80 106.60,127.10 107.30,130.10 108.50,124.80 110.10,120.20 111.85,119.01 113.60,117.90 115.13,117.66 116.67,116.91 118.20,116.70 119.73,116.65 121.27,116.25 122.80,115.60 124.35,115.10 125.90,114.92 127.45,115.10 129.00,114.90 130.50,115.23 132.00,114.87 133.50,114.78 135.00,115.00 136.43,114.90 137.86,114.58 139.29,114.68 140.71,114.79 142.14,114.78 143.57,114.56 145.00,114.70 146.43,114.48 147.86,114.45 149.29,114.59 150.71,114.44 152.14,114.22 153.57,114.76 155.00,114.50 156.43,114.55 157.86,114.63 159.29,114.32 160.71,114.90 162.14,114.82 163.57,114.32 165.00,114.60 166.43,114.45 167.86,114.70 169.29,114.66 170.71,114.79 172.14,114.40 173.57,114.66 175.00,114.40 176.43,114.50 177.86,114.23 179.29,114.42 180.71,114.61 182.14,114.57 183.57,114.32 185.00,114.30 186.50,114.41 188.00,114.07 189.50,114.27 191.00,114.50 193.60,116.20 196.00,114.00 197.50,114.17 199.00,113.87 200.50,113.67 202.00,113.90 203.50,113.98 205.00,113.80 206.43,113.94 207.86,113.74 209.29,113.80 210.71,113.86 212.14,114.07 213.57,113.90 215.00,113.90 216.43,113.80 217.86,113.84 219.29,113.48 220.71,113.47 222.14,113.90 223.57,114.07 225.00,113.70 226.43,113.77 227.86,113.63 229.29,113.47 230.71,113.70 232.14,114.04 233.57,113.89 235.00,113.70 236.43,113.73 237.86,113.95 239.29,113.51 240.71,113.71 242.14,114.02 243.57,113.75 245.00,113.70 246.38,113.64 247.75,113.48 249.13,113.64 250.51,113.90 251.88,113.20 253.26,113.71 254.64,113.71 256.02,113.72 257.39,113.59 258.77,113.61 260.15,113.37 261.52,113.37 262.90,113.30 264.24,113.28 265.58,113.06 266.92,113.66 268.26,113.49 269.61,113.27 270.95,113.52 272.29,113.54 273.63,113.48 274.97,113.51 276.31,113.68 277.65,113.77 278.99,113.80 280.34,113.73 281.68,113.46 283.02,113.64 284.36,113.64 285.70,113.90 287.09,114.05 288.48,114.33 289.87,114.38 291.26,114.47 292.65,114.58 294.05,114.27 295.44,114.78 296.83,114.75 298.22,114.43 299.61,114.47 301.00,114.90 302.32,114.58 303.63,115.13 304.95,114.79 306.26,114.72 307.58,115.10 308.89,114.93 310.21,114.76 311.52,114.85 312.84,115.13 314.15,114.90 315.47,114.99 316.78,115.33 318.10,115.20 319.55,115.37 321.00,115.60 322.30,123.20 323.80,116.20 325.32,115.88 326.84,115.78 328.36,115.27 329.88,115.32 331.40,115.20 332.77,115.20 334.14,115.10 335.51,115.10 336.89,115.71 338.26,115.49 339.63,115.34 341.00,115.60 342.90,119.00 343.80,125.70 345.10,130.50 346.30,122.90 347.60,116.20 349.20,115.64 350.80,115.16 352.40,114.30 353.70,114.31 355.00,115.00 356.60,115.00 358.20,115.42 359.80,116.00 361.12,115.75 362.44,114.96 363.76,114.94 365.08,114.52 366.40,114.00 367.84,113.99 369.27,113.73 370.71,114.22 372.15,114.06 373.59,113.82 375.02,113.58 376.46,113.84 377.90,113.70 379.28,113.63 380.66,113.75 382.05,113.57 383.43,113.79 384.81,113.39 386.19,113.56 387.57,114.03 388.95,113.96 390.34,113.56 391.72,113.95 393.10,113.70 394.42,113.54 395.73,113.95 397.05,113.78 398.36,113.52 399.68,113.37 400.99,113.17 402.31,113.75 403.62,113.13 404.94,113.65 406.25,113.72 407.57,113.41 408.88,113.10 410.20,113.30 411.57,113.66 412.94,113.83 414.31,113.74 415.69,113.71 417.06,113.71 418.43,113.79 419.80,114.00 421.70,113.64 423.60,113.70 424.92,113.84 426.23,113.70 427.55,113.56 428.86,113.52 430.18,113.93 431.49,113.70 432.81,113.86 434.12,113.76 435.44,114.17 436.75,114.21 438.07,113.62 439.38,113.77 440.70,114.00 442.03,113.92 443.36,114.42 444.69,114.32 446.02,114.05 447.35,114.00 448.68,114.36 450.01,114.52 451.34,114.62 452.67,114.25 454.00,114.40 455.37,114.75 456.74,114.70 458.11,114.65 459.49,115.08 460.86,114.64 462.23,115.07 463.60,115.00 465.03,115.18 466.45,115.72 467.88,116.71 469.30,116.90 470.90,118.00 472.50,119.50 474.10,119.23 475.70,118.60 477.60,119.50 479.90,122.00 482.10,118.90 484.20,121.40 486.50,117.60 489.00,114.80 490.95,113.87 492.90,112.80 494.57,112.87 496.23,112.37 497.90,112.30 499.60,111.92 501.30,111.62 503.00,111.50 504.90,111.76 506.80,111.50 508.70,110.92 510.60,110.20 512.50,109.92 514.40,109.00 516.35,109.12 518.30,108.70 520.20,108.94 522.10,109.70 524.00,109.54 525.90,109.30 527.80,109.47 529.70,110.20 532.20,108.10 534.10,109.03 536.00,110.60 537.80,111.90 539.60,113.80 541.70,110.00 543.70,106.20 545.60,108.40 547.07,108.32 548.53,107.94 550.00,107.40 550.83,107.96 551.67,106.88 552.50,107.10 553.37,107.56 554.23,108.13 555.10,107.80 555.93,108.39 556.77,109.61 557.60,110.30 558.55,109.45 559.50,109.70 560.60,111.60 561.70,113.50 562.47,111.60 563.23,109.70 564.00,107.80 564.83,109.27 565.67,110.73 566.50,112.20 567.26,112.00 568.02,111.51 568.78,112.41 569.54,112.38 570.30,111.60 571.06,110.88 571.82,112.46 572.58,111.56 573.34,111.87 574.10,112.90 575.05,112.37 576.00,110.30 576.95,109.73 577.90,111.00 578.77,111.51 579.63,114.04 580.50,114.10 581.45,112.69 582.40,111.60 583.20,110.98 584.00,111.23 584.80,111.53 585.60,112.20 586.43,112.69 587.27,111.41 588.10,112.20 588.87,111.95 589.63,109.82 590.40,109.00 591.33,110.93 592.27,112.87 593.20,114.80 594.15,112.25 595.10,109.70 595.90,108.73 596.70,108.70 597.50,107.48 598.30,107.80 599.13,109.70 599.97,111.60 600.80,113.50 601.63,111.60 602.47,109.70 603.30,107.80 604.07,105.67 604.83,103.53 605.60,101.40 606.50,106.50 607.45,107.65 608.40,109.00 609.35,111.55 610.30,114.10 611.40,116.95 612.50,119.80 613.47,116.63 614.43,113.47 615.40,110.30 616.35,113.15 617.30,116.00 618.07,112.00 618.83,108.00 619.60,104.00 620.50,101.15 621.40,98.30 622.20,104.00 623.00,109.70 623.95,114.15 624.90,118.60 625.85,111.60 626.80,104.60 628.10,110.30 629.40,101.40" fill="none" stroke="#ff5c5c" stroke-width="0.9" stroke-linejoin="round"/>
<polyline points="49.00,199.30 50.60,199.50 51.60,199.19 52.60,199.40 53.80,199.19 55.00,198.50 56.90,198.70 58.10,199.28 59.30,199.50 60.50,199.53 61.70,199.90 62.77,199.96 63.83,200.00 64.90,200.10 65.93,200.27 66.97,200.44 68.00,200.30 69.20,200.02 70.40,200.30 71.60,200.57 72.80,201.50 73.60,202.30 74.40,201.50 75.40,201.54 76.40,201.10 77.60,200.80 78.80,200.60 80.70,201.10 81.90,201.48 83.10,201.50 84.70,203.10 86.30,206.30 87.10,207.90 87.90,205.90 89.10,204.10 90.10,203.85 91.10,204.30 93.00,205.10 94.60,207.10 95.80,209.10 97.00,207.90 98.20,208.30 99.00,210.00 100.20,227.70 101.60,238.10 102.50,228.90 103.40,284.20 104.30,258.90 105.50,245.00 106.20,249.60 107.10,278.50 107.60,250.00 108.00,229.70 108.60,212.00 109.50,210.20 110.80,212.30 111.90,213.80 112.90,220.30 114.00,230.40 114.50,232.30 115.40,223.90 116.60,210.90 118.00,205.10 119.40,201.10 120.90,200.80 122.30,202.90 123.80,204.40 124.90,205.40 126.40,201.50 127.40,200.50 128.80,201.50 130.30,200.80 131.70,201.90 133.20,204.00 133.90,203.40 135.30,200.80 136.75,200.41 138.20,200.10 139.30,200.96 140.40,201.50 141.45,200.81 142.50,200.50 143.75,200.36 145.00,199.60 146.90,201.70 148.05,201.53 149.20,200.80 150.40,205.80 151.50,215.10 152.70,209.30 154.30,213.90 155.70,208.60 157.30,211.60 158.90,208.60 160.30,212.70 161.90,208.10 163.50,203.50 164.50,202.80 165.50,202.43 166.50,202.40 167.65,202.78 168.80,203.10 170.40,204.70 172.30,213.90 173.40,212.70 174.60,226.60 175.70,216.20 176.90,236.00 177.40,247.00 177.60,265.00 177.90,248.00 178.30,262.00 178.60,246.00 179.00,266.00 179.40,250.00 179.80,262.00 180.30,286.00 180.70,255.00 181.10,246.50 181.50,258.00 182.00,251.80 182.90,239.50 183.80,234.70 185.00,227.70 186.10,217.40 187.30,223.10 188.40,216.20 189.60,212.70 190.70,222.00 191.90,218.50 193.00,219.70 194.20,243.90 195.30,231.20 197.20,209.30 198.80,207.70 200.40,215.10 201.10,226.60 202.20,213.90 204.10,219.70 205.70,207.00 207.30,204.70 208.30,204.61 209.30,203.82 210.30,203.50 211.47,204.07 212.63,204.98 213.80,205.80 215.00,207.20 216.25,208.47 217.50,210.40 219.40,214.20 220.70,217.40 222.00,211.00 223.90,207.90 225.80,207.00 227.30,209.10 229.00,205.30 230.90,205.30 232.80,209.80 234.00,213.00 235.10,211.00 235.70,215.50 236.80,209.80 238.50,206.00 240.40,202.20 241.65,202.61 242.90,203.40 244.05,204.96 245.20,206.60 246.50,203.40 248.30,205.00 249.90,203.40 251.20,206.10 252.50,208.80 254.40,207.20 255.90,207.90 257.50,202.20 258.80,200.86 260.10,199.90 261.17,199.18 262.23,198.64 263.30,198.30 265.20,199.00 266.00,200.30 266.80,210.40 267.70,202.20 269.00,204.10 269.90,203.20 270.90,204.70 272.10,207.20 273.70,200.90 274.85,200.57 276.00,200.30 277.25,199.30 278.50,198.60 279.75,198.02 281.00,198.10 282.30,198.14 283.60,197.70 285.50,196.80 287.40,197.70 289.30,200.90 290.50,201.60 292.30,203.70 293.80,200.20 294.95,199.59 296.10,198.90 297.90,202.10 299.05,200.35 300.20,198.60 302.10,200.20 303.15,203.05 304.20,205.90 305.90,202.10 307.15,202.09 308.40,201.40 310.30,202.10 311.60,200.60 312.90,198.60 314.15,198.58 315.40,199.10 317.30,197.60 319.20,196.30 321.10,195.10 323.00,195.70 324.30,197.60 325.30,202.70 326.20,209.00 327.10,198.90 328.70,198.90 330.00,201.40 331.30,205.50 332.50,201.40 333.80,201.63 335.10,202.10 336.35,200.66 337.60,198.90 338.90,198.25 340.20,197.30 341.45,197.86 342.70,197.80 343.85,197.60 345.00,197.50 346.40,200.00 347.60,207.60 348.40,205.90 349.20,250.50 350.10,215.20 350.60,202.60 351.40,202.60 352.10,225.30 352.80,205.10 353.80,200.90 355.50,204.20 356.80,206.80 358.20,211.00 358.80,228.60 359.50,242.10 360.20,225.30 361.00,206.80 362.70,201.70 363.95,200.68 365.20,199.20 366.90,200.90 368.60,202.60 370.30,200.90 371.90,200.00 373.60,201.70 374.50,206.80 375.30,213.50 376.10,216.80 377.00,208.40 378.20,200.20 379.45,199.77 380.70,199.10 382.60,199.90 383.90,199.26 385.20,198.90 386.45,199.91 387.70,200.80 389.60,203.30 391.50,207.80 393.40,211.80 395.10,211.30 396.60,207.80 398.50,203.30 400.40,200.80 402.30,201.40 403.55,201.07 404.80,200.20 406.10,199.89 407.40,199.10 408.65,198.70 409.90,198.30 411.20,198.66 412.50,198.90 414.40,201.40 416.30,206.50 418.20,214.10 419.40,218.20 420.70,212.90 422.20,202.70 423.30,201.40 425.20,203.30 426.45,204.07 427.70,205.50 429.60,203.30 430.85,201.67 432.10,200.40 433.40,200.16 434.70,199.50 435.97,199.57 437.23,199.54 438.50,199.90 439.75,199.73 441.00,199.50 442.07,200.21 443.13,200.76 444.20,201.20 445.27,200.85 446.33,200.62 447.40,200.40 448.70,200.81 450.00,201.20 451.80,203.30 453.10,202.70 455.00,202.10 456.90,204.70 458.05,206.04 459.20,207.00 460.35,206.41 461.50,205.80 462.65,205.98 463.80,206.30 464.95,207.44 466.10,208.60 468.00,217.40 469.60,226.60 470.70,230.00 471.90,234.70 473.10,212.70 474.90,208.10 476.50,207.00 477.70,210.40 479.50,210.40 480.70,217.40 481.60,238.10 482.70,219.70 483.90,216.20 485.00,224.30 486.40,233.50 487.30,270.40 488.30,238.10 489.70,215.10 491.50,209.30 492.70,210.40 493.80,226.60 495.00,257.70 496.10,233.50 497.70,219.70 499.10,218.50 500.30,224.30 501.20,249.60 502.10,226.60 503.50,211.60 504.90,216.20 506.50,211.60 507.65,208.15 508.80,204.70 509.90,205.80 511.10,226.60 512.20,239.30 513.40,226.60 514.55,216.80 515.70,207.00 516.70,205.98 517.70,205.00 518.70,203.50 520.10,203.37 521.50,203.10 523.30,208.10 524.90,239.30 526.20,219.70 527.30,208.10 528.90,216.20 530.80,205.80 531.95,207.55 533.10,209.30 534.10,210.20 535.10,211.57 536.10,212.70 537.45,209.25 538.80,205.80 539.95,203.75 541.10,201.70 542.25,201.28 543.40,200.80 545.30,196.60 546.90,200.10 548.10,202.40 549.20,212.70 550.80,214.60 552.70,213.90 554.50,216.20 556.10,222.00 557.25,227.15 558.40,232.30 560.30,245.00 561.90,261.20 563.00,249.60 564.70,237.00 566.50,228.90 568.30,230.00 570.00,224.30 571.80,224.30 572.85,227.15 573.90,230.00 575.70,235.80 576.80,238.20 578.50,254.40 580.10,242.80 581.50,239.40 583.10,252.10 584.70,231.30 586.60,220.90 588.40,216.30 590.00,212.80 591.60,204.70 593.00,212.80 594.60,207.70 596.30,215.10 597.60,214.00 599.30,237.10 600.90,219.70 602.70,210.50 604.60,203.60 606.20,212.80 607.40,220.90 608.50,207.00 609.65,204.10 610.80,201.20 611.95,202.47 613.10,203.10 614.80,197.80 616.10,193.80 617.80,196.60 618.90,207.00 620.10,240.50 621.70,218.60 623.50,212.80 625.40,226.70 627.00,249.80 628.60,226.70 629.80,215.10" fill="none" stroke="#be86ff" stroke-width="0.9" stroke-linejoin="round"/>
<polyline points="49.00,296.00 50.60,295.90 51.80,295.44 53.00,295.50 54.03,295.68 55.07,295.55 56.10,295.30 57.17,295.33 58.23,295.70 59.30,295.90 60.30,295.96 61.30,296.21 62.30,296.40 63.30,296.30 64.30,296.12 65.30,296.17 66.30,296.84 67.30,296.70 68.33,296.72 69.37,297.02 70.40,296.90 71.60,297.05 72.80,297.90 73.87,297.70 74.93,297.72 76.00,297.40 77.07,297.24 78.13,297.78 79.20,297.50 80.35,298.18 81.50,298.30 82.70,297.57 83.90,297.50 85.50,298.70 86.90,300.70 88.30,299.50 89.30,300.07 90.30,301.30 91.30,300.83 92.30,300.30 93.40,300.70 94.60,302.30 96.20,303.90 97.80,305.10 99.00,306.90 99.60,309.50 100.10,313.40 101.10,317.40 102.10,315.40 103.20,332.80 104.20,321.50 105.20,325.60 106.20,319.50 107.20,373.60 107.90,335.80 108.50,306.20 109.70,305.60 111.30,307.20 113.00,311.30 114.40,315.40 115.40,309.30 117.00,300.10 118.25,299.41 119.50,298.10 120.50,297.47 121.50,297.00 122.55,297.65 123.60,298.70 125.20,303.20 126.60,298.70 127.65,298.00 128.70,297.40 129.70,297.72 130.70,298.70 132.30,298.10 133.80,303.20 135.40,298.10 136.65,297.36 137.90,297.00 138.90,297.06 139.90,297.20 140.90,297.11 141.90,297.40 142.93,296.94 143.97,296.67 145.00,296.60 146.03,296.94 147.07,297.19 148.10,297.70 149.25,299.75 150.40,301.80 151.50,315.70 152.70,304.10 154.30,307.60 155.70,303.00 157.30,313.40 158.40,304.10 160.30,301.80 161.40,311.10 162.60,300.70 164.20,298.40 165.35,298.29 166.50,297.70 167.65,298.44 168.80,299.10 170.70,304.10 172.30,313.40 173.40,317.00 174.70,318.30 175.20,335.50 176.00,320.20 177.10,324.00 177.50,345.00 177.90,366.00 178.20,340.00 178.50,345.00 178.80,332.00 179.10,352.00 179.40,340.00 179.80,354.50 180.40,381.20 180.70,350.00 181.00,352.60 181.40,335.00 181.70,322.10 182.90,326.00 183.60,329.80 184.80,318.30 185.50,316.40 186.70,312.60 188.00,314.50 189.00,324.00 189.90,312.60 190.70,308.70 191.90,313.40 193.50,338.70 194.90,320.30 196.50,306.40 198.10,304.10 199.50,308.70 200.40,329.50 201.30,315.70 202.70,320.30 204.60,306.40 205.75,304.80 206.90,303.00 208.05,303.33 209.20,304.10 210.35,303.89 211.50,303.00 212.63,303.79 213.77,303.80 214.90,304.60 216.20,305.08 217.50,305.80 218.80,309.00 220.30,311.50 222.00,304.50 223.90,303.50 225.80,302.60 227.30,304.80 229.00,302.00 230.90,302.00 232.10,310.90 233.40,309.00 234.30,310.90 235.30,319.10 236.30,307.00 237.20,304.50 238.50,302.00 240.40,300.70 241.70,305.80 243.20,302.00 244.35,301.81 245.50,301.30 246.75,301.15 248.00,300.70 249.30,301.01 250.60,300.70 251.80,303.20 252.50,309.60 253.10,303.20 254.40,302.60 255.40,306.40 256.30,300.70 257.55,300.00 258.80,299.40 260.05,299.53 261.30,299.20 262.60,298.82 263.90,298.20 265.50,299.20 266.40,303.20 267.10,312.10 267.70,300.10 269.00,300.70 270.20,302.60 271.10,302.00 271.90,310.60 272.80,303.20 273.70,299.40 274.85,299.61 276.00,300.10 277.25,299.21 278.50,298.20 279.75,298.32 281.00,297.90 282.30,297.94 283.60,297.50 284.85,297.30 286.10,297.10 288.00,298.20 288.90,303.00 290.60,300.70 291.90,301.30 293.80,299.20 295.70,300.10 297.40,302.00 299.10,298.20 300.25,299.21 301.40,300.10 302.55,302.20 303.70,304.30 304.80,302.20 305.90,300.10 307.15,300.61 308.40,300.70 309.70,299.69 311.00,298.80 312.90,297.10 314.80,298.80 316.70,297.50 318.60,296.60 319.85,295.77 321.10,295.40 322.20,296.03 323.30,296.60 324.30,298.04 325.30,299.20 326.20,301.70 327.50,298.20 329.40,298.80 330.40,300.70 331.30,307.70 332.20,300.70 333.80,299.70 335.70,300.70 337.60,298.20 338.70,297.52 339.80,296.60 340.95,296.96 342.10,297.50 344.00,297.50 345.90,298.20 347.40,302.00 348.40,303.90 349.40,318.50 350.10,304.50 351.00,302.20 351.80,304.50 352.50,332.40 353.10,307.00 354.10,302.20 355.40,302.60 356.70,303.90 357.70,302.60 358.60,308.30 359.50,317.20 360.50,308.30 361.70,300.70 362.70,299.71 363.70,298.80 364.95,298.51 366.20,298.20 368.10,300.10 368.80,301.30 370.70,299.70 372.60,300.70 374.10,300.70 375.20,303.90 375.90,307.00 376.70,304.50 377.70,300.10 379.60,299.70 381.50,300.70 383.40,299.40 385.30,300.70 387.20,302.00 388.90,304.50 390.10,302.00 391.70,303.50 393.60,304.50 395.50,304.80 397.40,302.00 399.30,300.40 400.55,300.09 401.80,299.40 403.10,299.76 404.40,300.10 405.65,299.68 406.90,299.40 408.15,299.29 409.40,299.20 410.70,299.32 412.00,300.10 413.25,300.38 414.50,301.30 416.40,303.90 418.30,307.00 419.60,307.70 420.90,306.40 422.80,303.20 424.70,302.60 425.95,303.99 427.20,305.10 429.10,303.00 430.40,302.04 431.70,300.40 432.95,299.47 434.20,298.40 435.27,298.26 436.33,298.04 437.40,298.20 438.47,298.20 439.53,298.54 440.60,298.20 441.85,298.89 443.10,299.20 445.00,299.60 446.05,299.90 447.10,300.40 448.15,300.24 449.20,300.70 450.35,302.65 451.50,304.60 452.70,300.70 453.83,301.02 454.97,300.75 456.10,300.70 457.27,301.20 458.43,301.61 459.60,302.30 460.77,302.57 461.93,303.09 463.10,303.00 464.23,303.42 465.37,304.73 466.50,305.30 467.65,307.60 468.80,309.90 469.95,311.32 471.10,312.20 472.25,309.90 473.40,307.60 474.55,305.85 475.70,304.10 477.30,304.60 479.20,307.60 480.30,320.30 481.50,336.40 482.70,315.70 483.80,307.60 485.00,306.90 486.10,311.10 487.30,334.10 488.00,364.10 488.90,334.10 490.30,315.70 491.90,308.70 493.50,313.40 494.90,350.20 496.00,329.50 497.60,307.60 499.50,306.40 500.40,318.00 501.30,341.00 502.20,322.60 503.40,307.60 504.60,308.70 505.70,316.80 506.90,306.40 508.70,302.30 510.30,304.10 511.50,320.30 512.60,342.20 513.80,322.60 515.60,304.10 516.75,301.80 517.90,299.50 519.35,298.64 520.80,297.70 522.40,298.40 523.30,311.10 524.20,335.30 525.10,315.70 526.50,300.70 528.40,301.80 530.00,297.70 531.15,297.20 532.30,296.80 533.45,296.94 534.60,297.70 535.75,298.66 536.90,299.10 538.05,298.00 539.20,296.80 540.35,296.24 541.50,296.10 542.65,296.45 543.80,296.80 545.40,294.90 547.30,298.40 548.40,307.60 549.60,315.20 550.70,303.00 551.85,303.34 553.00,303.70 554.15,304.40 555.30,305.30 556.50,308.20 557.70,311.10 558.85,313.95 560.00,316.80 561.10,326.00 562.30,320.30 563.40,313.40 565.30,309.90 566.90,312.20 568.00,314.50 569.90,307.60 571.50,306.90 573.10,308.70 574.15,309.44 575.20,310.00 576.80,313.40 577.80,322.70 578.90,335.40 580.10,318.00 581.20,311.10 582.40,314.60 583.30,320.40 584.70,313.40 586.60,306.50 587.95,305.43 589.30,304.20 590.45,305.32 591.60,306.50 593.50,307.60 595.30,306.00 597.00,307.00 598.15,308.17 599.30,310.00 600.90,307.60 602.70,301.90 604.60,297.20 606.20,301.90 607.35,300.31 608.50,299.10 610.10,304.20 611.50,298.40 613.10,303.00 614.70,297.20 616.60,295.40 618.40,300.70 619.40,315.70 620.30,329.60 621.70,308.80 623.50,298.40 624.70,292.60 625.80,298.40 627.00,322.70 627.70,335.40 628.60,320.40 629.50,306.50" fill="none" stroke="#be86ff" stroke-width="0.9" stroke-linejoin="round"/>
<line x1="114.8" y1="239.0" x2="114.8" y2="249.6" stroke="#3c3c3c" stroke-width="1.7"/>
<polygon points="112.2,239.5 114.3,235.2 115.3,235.2 117.4,239.5" fill="#151515"/>
<line x1="125.2" y1="211.1" x2="125.2" y2="221" stroke="#3c3c3c" stroke-width="1.7"/>
<polygon points="122.6,211.6 124.7,207.3 125.7,207.3 127.8,211.6" fill="#151515"/>
<line x1="133.9" y1="211.1" x2="133.9" y2="221" stroke="#3c3c3c" stroke-width="1.7"/>
<polygon points="131.3,211.6 133.4,207.3 134.4,207.3 136.5,211.6" fill="#151515"/>
<line x1="359.7" y1="248.4" x2="359.7" y2="258.7" stroke="#3c3c3c" stroke-width="1.7"/>
<polygon points="357.1,248.9 359.2,244.6 360.2,244.6 362.3,248.9" fill="#151515"/>
<line x1="376.3" y1="224.8" x2="376.3" y2="234.6" stroke="#3c3c3c" stroke-width="1.7"/>
<polygon points="373.7,225.3 375.8,221.0 376.8,221.0 378.9,225.3" fill="#151515"/>
<line x1="394.8" y1="218.6" x2="394.8" y2="228.8" stroke="#3c3c3c" stroke-width="1.7"/>
<polygon points="392.2,219.1 394.3,214.8 395.3,214.8 397.4,219.1" fill="#151515"/>
<line x1="419.4" y1="224.4" x2="419.4" y2="234.7" stroke="#3c3c3c" stroke-width="1.7"/>
<polygon points="416.8,224.9 418.9,220.6 419.9,220.6 422.0,224.9" fill="#151515"/>
<line x1="471.9" y1="243.1" x2="471.9" y2="253.1" stroke="#3c3c3c" stroke-width="1.7"/>
<polygon points="469.3,243.6 471.4,239.3 472.4,239.3 474.5,243.6" fill="#151515"/>
<line x1="114.8" y1="322.9" x2="114.8" y2="332.9" stroke="#3c3c3c" stroke-width="1.7"/>
<polygon points="112.2,323.4 114.3,319.1 115.3,319.1 117.4,323.4" fill="#151515"/>
<line x1="125.5" y1="310.6" x2="125.5" y2="320.5" stroke="#3c3c3c" stroke-width="1.7"/>
<polygon points="122.9,311.1 125.0,306.8 126.0,306.8 128.1,311.1" fill="#151515"/>
<line x1="134.2" y1="310.6" x2="134.2" y2="320.5" stroke="#3c3c3c" stroke-width="1.7"/>
<polygon points="131.6,311.1 133.7,306.8 134.7,306.8 136.8,311.1" fill="#151515"/>
<line x1="359.6" y1="324.2" x2="359.6" y2="334.3" stroke="#3c3c3c" stroke-width="1.7"/>
<polygon points="357.0,324.7 359.1,320.4 360.1,320.4 362.2,324.7" fill="#151515"/>
<line x1="376.4" y1="313.4" x2="376.4" y2="323.6" stroke="#3c3c3c" stroke-width="1.7"/>
<polygon points="373.8,313.9 375.9,309.6 376.9,309.6 379.0,313.9" fill="#151515"/>
<line x1="394.8" y1="310.6" x2="394.8" y2="320.8" stroke="#3c3c3c" stroke-width="1.7"/>
<polygon points="392.2,311.1 394.3,306.8 395.3,306.8 397.4,311.1" fill="#151515"/>
<line x1="419.6" y1="315.0" x2="419.6" y2="324.8" stroke="#3c3c3c" stroke-width="1.7"/>
<polygon points="417.0,315.5 419.1,311.2 420.1,311.2 422.2,315.5" fill="#151515"/>
<line x1="471.8" y1="320.6" x2="471.8" y2="330.7" stroke="#3c3c3c" stroke-width="1.7"/>
<polygon points="469.2,321.1 471.3,316.8 472.3,316.8 474.4,321.1" fill="#151515"/>
<text x="46.9" y="31.4" text-anchor="end" style="font-family:'Liberation Sans', sans-serif;font-size:10px;fill:#2a2a2a;stroke:#2a2a2a;stroke-width:0.3px">90</text>
<text x="46.9" y="70.0" text-anchor="end" style="font-family:'Liberation Sans', sans-serif;font-size:10px;fill:#2a2a2a;stroke:#2a2a2a;stroke-width:0.3px">80</text>
<text x="46.9" y="136.4" text-anchor="end" style="font-family:'Liberation Sans', sans-serif;font-size:10px;fill:#2a2a2a;stroke:#2a2a2a;stroke-width:0.3px">80</text>
<text x="46.9" y="172.0" text-anchor="end" style="font-family:'Liberation Sans', sans-serif;font-size:10px;fill:#2a2a2a;stroke:#2a2a2a;stroke-width:0.3px">60</text>
<text x="46.9" y="222.6" text-anchor="end" style="font-family:'Liberation Sans', sans-serif;font-size:10px;fill:#2a2a2a;stroke:#2a2a2a;stroke-width:0.3px">90</text>
<text x="46.9" y="255.4" text-anchor="end" style="font-family:'Liberation Sans', sans-serif;font-size:10px;fill:#2a2a2a;stroke:#2a2a2a;stroke-width:0.3px">80</text>
<text x="46.9" y="285.7" text-anchor="end" style="font-family:'Liberation Sans', sans-serif;font-size:10px;fill:#2a2a2a;stroke:#2a2a2a;stroke-width:0.3px">70</text>
<text x="46.9" y="298.4" text-anchor="end" style="font-family:'Liberation Sans', sans-serif;font-size:10px;fill:#2a2a2a;stroke:#2a2a2a;stroke-width:0.3px">80</text>
<text x="46.9" y="321.8" text-anchor="end" style="font-family:'Liberation Sans', sans-serif;font-size:10px;fill:#2a2a2a;stroke:#2a2a2a;stroke-width:0.3px">70</text>
<text x="46.9" y="349.4" text-anchor="end" style="font-family:'Liberation Sans', sans-serif;font-size:10px;fill:#2a2a2a;stroke:#2a2a2a;stroke-width:0.3px">60</text>
<text x="46.9" y="377.0" text-anchor="end" style="font-family:'Liberation Sans', sans-serif;font-size:10px;fill:#2a2a2a;stroke:#2a2a2a;stroke-width:0.3px">50</text>
<text x="130.2" y="395.6" text-anchor="middle" style="font-family:'Liberation Sans', sans-serif;font-size:10px;fill:#2a2a2a;stroke:#2a2a2a;stroke-width:0.3px">1.6</text>
<text x="260.2" y="395.6" text-anchor="middle" style="font-family:'Liberation Sans', sans-serif;font-size:10px;fill:#2a2a2a;stroke:#2a2a2a;stroke-width:0.3px">1.8</text>
<text x="390.2" y="395.6" text-anchor="middle" style="font-family:'Liberation Sans', sans-serif;font-size:10px;fill:#2a2a2a;stroke:#2a2a2a;stroke-width:0.3px">2.0</text>
<text x="520.2" y="395.6" text-anchor="middle" style="font-family:'Liberation Sans', sans-serif;font-size:10px;fill:#2a2a2a;stroke:#2a2a2a;stroke-width:0.3px">2.2</text>
<text x="300.5" y="410.4" style="font-family:'Liberation Sans', sans-serif;font-size:10px;fill:#2a2a2a;stroke:#2a2a2a;stroke-width:0.3px">Wavelength (&#181;m)</text>
<text transform="translate(13.8,228) rotate(-90)" style="font-family:'Liberation Sans', sans-serif;font-size:10px;fill:#2a2a2a;stroke:#2a2a2a;stroke-width:0.3px">%Reflectance</text>
<text x="240.6" y="60.9" style="font-family:'Liberation Sans', sans-serif;font-size:10px;letter-spacing:-0.16px;fill:#2a2a2a;stroke:#2a2a2a;stroke-width:0.3px">Benzene - 96 K</text>
<text x="238.9" y="152.5" style="font-family:'Liberation Sans', sans-serif;font-size:10px;letter-spacing:-0.16px;fill:#2a2a2a;stroke:#2a2a2a;stroke-width:0.3px">Acetylene - 89 K</text>
<text x="238.3" y="246.9" style="font-family:'Liberation Sans', sans-serif;font-size:10px;letter-spacing:-0.16px;fill:#2a2a2a;stroke:#2a2a2a;stroke-width:0.3px">Co-crystal - 94 K</text>
<text x="238.3" y="343.8" style="font-family:'Liberation Sans', sans-serif;font-size:10px;letter-spacing:-0.16px;fill:#2a2a2a;stroke:#2a2a2a;stroke-width:0.3px">Co-crystal - 93 K</text>
<rect x="0" y="0" width="630" height="1" fill="#6e6a5a"/>
<rect x="0" y="1" width="630" height="1" fill="#dcdad0"/>
<rect x="0" y="0" width="1" height="416" fill="#4c4a40"/>
<rect x="1" y="1" width="1" height="415" fill="#b0aea2"/>
<rect x="629" y="1" width="1" height="415" fill="#a4a4a4"/>
<rect x="1" y="415" width="629" height="1" fill="#a8a8a0"/>
</svg>
</body></html>
